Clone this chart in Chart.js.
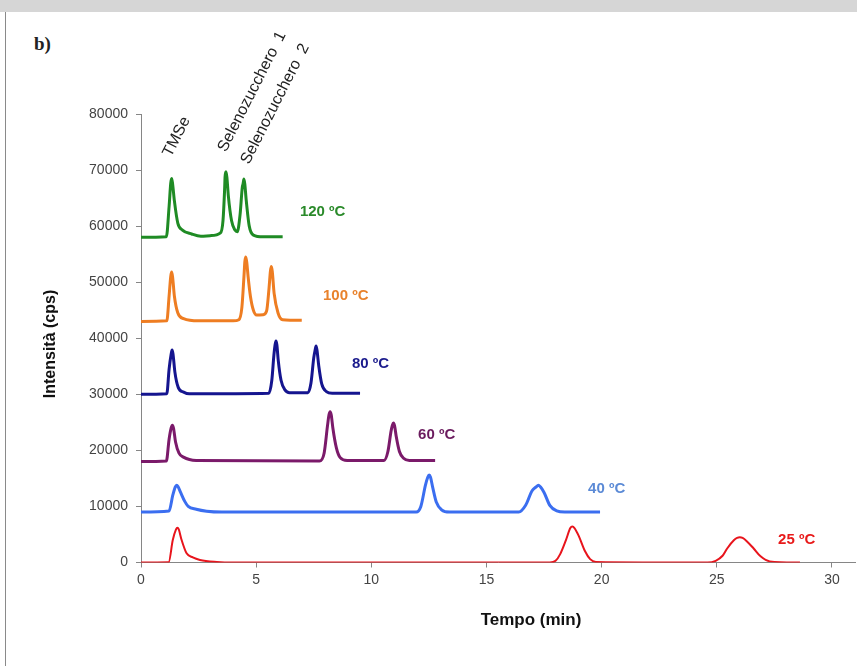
<!DOCTYPE html>
<html>
<head>
<meta charset="utf-8">
<script src="https://cdn.jsdelivr.net/npm/chart.js@4.4.1/dist/chart.umd.min.js"></script>
<style>
  body { margin: 0; background: #fff; overflow: hidden; }
  #banner { position: absolute; left: 0; top: 0; width: 857px; height: 12px; background: #d6d6d6; }
  #border { position: absolute; left: 5px; top: 12px; width: 1px; height: 654px; background: #8a8a8a; }
  #tag { position: absolute; left: 34px; top: 33px; font: bold 19px "Liberation Serif", serif; color: #222; }
  #myChart { position: absolute; left: 0; top: 0; }
</style>
</head>
<body>
<div id="banner"></div>
<div id="border"></div>
<div id="tag">b)</div>
<canvas id="myChart" width="857" height="666"></canvas>
<script>
// retention times (min) and intensities (cps)
const t120 = [0, 1.10, 1.22, 1.29, 1.33, 1.37, 1.45, 1.60, 1.80, 2.2, 2.6, 3.0, 3.45, 3.56, 3.63, 3.65, 3.69, 3.73, 3.79, 3.93, 4.08, 4.18, 4.30, 4.40, 4.43, 4.47, 4.51, 4.56, 4.70, 4.88, 5.3, 6.15];
const i120 = [58000, 58100, 63500, 67600, 68500, 67600, 64500, 60500, 59300, 58600, 58200, 58300, 58800, 61000, 66500, 68800, 69700, 68700, 65500, 61000, 59300, 59000, 62000, 67000, 67500, 68400, 67400, 65000, 60000, 58400, 58100, 58100];

const t100 = [0, 1.12, 1.22, 1.29, 1.33, 1.37, 1.45, 1.60, 1.85, 2.5, 4.0, 4.25, 4.38, 4.47, 4.51, 4.55, 4.59, 4.65, 4.75, 4.88, 5.02, 5.30, 5.45, 5.56, 5.62, 5.66, 5.70, 5.78, 5.95, 6.15, 6.98];
const i100 = [43000, 43100, 47500, 51000, 51800, 51000, 47500, 44500, 43500, 43100, 43100, 43300, 45500, 51000, 53700, 54500, 53600, 51000, 47500, 45000, 44150, 44200, 44800, 49000, 52000, 52800, 51900, 48000, 44500, 43300, 43200];

const t80 = [0, 1.12, 1.22, 1.31, 1.35, 1.39, 1.47, 1.62, 1.85, 2.1, 5.55, 5.68, 5.77, 5.82, 5.86, 5.90, 5.96, 6.08, 6.25, 6.45, 7.25, 7.38, 7.50, 7.56, 7.60, 7.64, 7.72, 7.85, 8.05, 8.3, 9.51];
const i80 = [30000, 30100, 34500, 37200, 37900, 37200, 34000, 31200, 30400, 30100, 30200, 32500, 37000, 38800, 39500, 38800, 36000, 32500, 30800, 30300, 30300, 32000, 36500, 37900, 38600, 37900, 35000, 31800, 30500, 30200, 30200];

const t60 = [0, 1.10, 1.22, 1.31, 1.36, 1.41, 1.50, 1.65, 1.84, 2.4, 7.75, 7.95, 8.10, 8.16, 8.21, 8.26, 8.33, 8.48, 8.65, 8.95, 10.55, 10.72, 10.86, 10.91, 10.96, 11.01, 11.08, 11.22, 11.40, 11.65, 12.77];
const i60 = [18000, 18100, 22000, 24000, 24500, 24000, 21500, 19500, 18800, 18200, 18100, 19500, 24500, 26300, 26900, 26300, 24000, 20500, 18700, 18200, 18200, 19800, 23500, 24400, 24900, 24400, 22500, 19800, 18600, 18200, 18200];

const t40 = [0, 1.22, 1.38, 1.49, 1.55, 1.61, 1.72, 1.90, 2.05, 2.4, 2.85, 3.5, 11.95, 12.15, 12.35, 12.45, 12.51, 12.57, 12.66, 12.82, 13.05, 13.4, 16.40, 16.70, 16.98, 17.16, 17.25, 17.34, 17.50, 17.75, 18.05, 18.4, 19.93];
const i40 = [9000, 9200, 12000, 13500, 13800, 13500, 12500, 10900, 10000, 9500, 9150, 9000, 9000, 10000, 13800, 15200, 15600, 15200, 13500, 10800, 9400, 9000, 9000, 10200, 12800, 13500, 13800, 13500, 12500, 10200, 9200, 9000, 9000];

const t25 = [0, 1.20, 1.38, 1.52, 1.58, 1.64, 1.75, 1.98, 2.25, 2.56, 3.29, 4.0, 17.75, 18.00, 18.20, 18.45, 18.64, 18.73, 18.82, 19.00, 19.28, 19.50, 19.75, 24.60, 24.95, 25.25, 25.45, 25.75, 25.88, 26.00, 26.12, 26.30, 26.60, 26.90, 27.30, 28.61];
const i25 = [0, 50, 4000, 5900, 6200, 5900, 4200, 1640, 900, 450, 100, 0, 0, 300, 1500, 4000, 6150, 6400, 6150, 4800, 2000, 600, 100, 0, 300, 1200, 2500, 4000, 4380, 4500, 4380, 3800, 2500, 1100, 200, 0];

// series labels and where they sit (data units)
const tempLabels = ['120 ºC', '100 ºC', '80 ºC', '60 ºC', '40 ºC', '25 ºC'];
const tempLabelX = [6.90, 7.90, 9.16, 12.03, 19.41, 27.66];
const tempLabelY = [62500, 47500, 35400, 22700, 13100, 4000];

// compound names above the 120 ºC peaks
const peakNames = ['TMSe', 'Selenozucchero  1', 'Selenozucchero  2'];
const peakNameX = [1.30, 3.69, 4.69];
const peakNameY = [72200, 73100, 70900];

const lineColors = ['#1f8b24', '#ee7d22', '#15158f', '#7b1a6a', '#3b6ef0', '#e8141c'];
const textColors = ['#2a8a2a', '#e8822c', '#1a1a8c', '#6b1b5e', '#5b8ad6', '#e81a1a'];

const times = [t120, t100, t80, t60, t40, t25];
const values = [i120, i100, i80, i60, i40, i25];

function toPoints(ts, vs) {
    return ts.map((t, k) => ({ x: t, y: vs[k] }));
}

const datasets = times.map((ts, k) => ({
    label: tempLabels[k],
    data: toPoints(ts, values[k]),
    borderColor: lineColors[k],
    borderWidth: k === 5 ? 2 : 3,
    pointRadius: 0,
    cubicInterpolationMode: 'monotone',
    fill: false
}));

// draws the temperature labels, peak names and axis titles
const annotations = {
    id: 'annotations',
    afterDraw(chart) {
        const ctx = chart.ctx;
        const xs = chart.scales.x, ys = chart.scales.y;
        ctx.save();
        ctx.font = 'bold 15px "Liberation Sans", Arial, sans-serif';
        ctx.textAlign = 'left';
        ctx.textBaseline = 'middle';
        tempLabels.forEach((txt, k) => {
            ctx.fillStyle = textColors[k];
            ctx.fillText(txt, xs.getPixelForValue(tempLabelX[k]), ys.getPixelForValue(tempLabelY[k]));
        });

        ctx.font = '16px "Liberation Sans", Arial, sans-serif';
        ctx.fillStyle = '#222';
        ctx.textBaseline = 'alphabetic';
        peakNames.forEach((txt, k) => {
            ctx.save();
            ctx.translate(xs.getPixelForValue(peakNameX[k]), ys.getPixelForValue(peakNameY[k]));
            ctx.rotate(-63 * Math.PI / 180);
            ctx.fillText(txt, 0, 0);
            ctx.restore();
        });

        // axis titles
        ctx.fillStyle = '#111';
        ctx.textAlign = 'center';
        ctx.textBaseline = 'middle';
        ctx.font = 'bold 17px "Liberation Sans", Arial, sans-serif';
        ctx.fillText('Tempo (min)', 531, 620);
        ctx.save();
        ctx.translate(51, 344);
        ctx.rotate(-Math.PI / 2);
        ctx.font = 'bold 16px "Liberation Sans", Arial, sans-serif';
        ctx.fillText('Intensità (cps)', 0, 0);
        ctx.restore();
        ctx.restore();
    }
};

new Chart(document.getElementById('myChart').getContext('2d'), {
    type: 'line',
    data: { datasets },
    options: {
        responsive: false,
        animation: false,
        layout: { padding: { top: 114, right: 2, left: 0, bottom: 0 } },
        plugins: { legend: { display: false }, tooltip: { enabled: false } },
        scales: {
            x: {
                type: 'linear',
                min: 0, max: 31,
                afterFit: s => { s.height = 103.5; },
                border: { display: true, color: '#868686', width: 1 },
                grid: { display: true, drawOnChartArea: false, drawTicks: true, tickLength: 5, color: '#868686' },
                ticks: { stepSize: 5, includeBounds: false, padding: 4, color: '#444', font: { size: 14, family: '"Liberation Sans", Arial, sans-serif' } }
            },
            y: {
                min: 0, max: 80000,
                afterFit: s => { s.width = 141; },
                border: { display: true, color: '#868686', width: 1 },
                grid: { display: true, drawOnChartArea: false, drawTicks: true, tickLength: 5, color: '#868686' },
                ticks: { stepSize: 10000, padding: 8, color: '#444', callback: v => String(v), font: { size: 14, family: '"Liberation Sans", Arial, sans-serif' } }
            }
        }
    },
    plugins: [annotations]
});
</script>
</body>
</html>
